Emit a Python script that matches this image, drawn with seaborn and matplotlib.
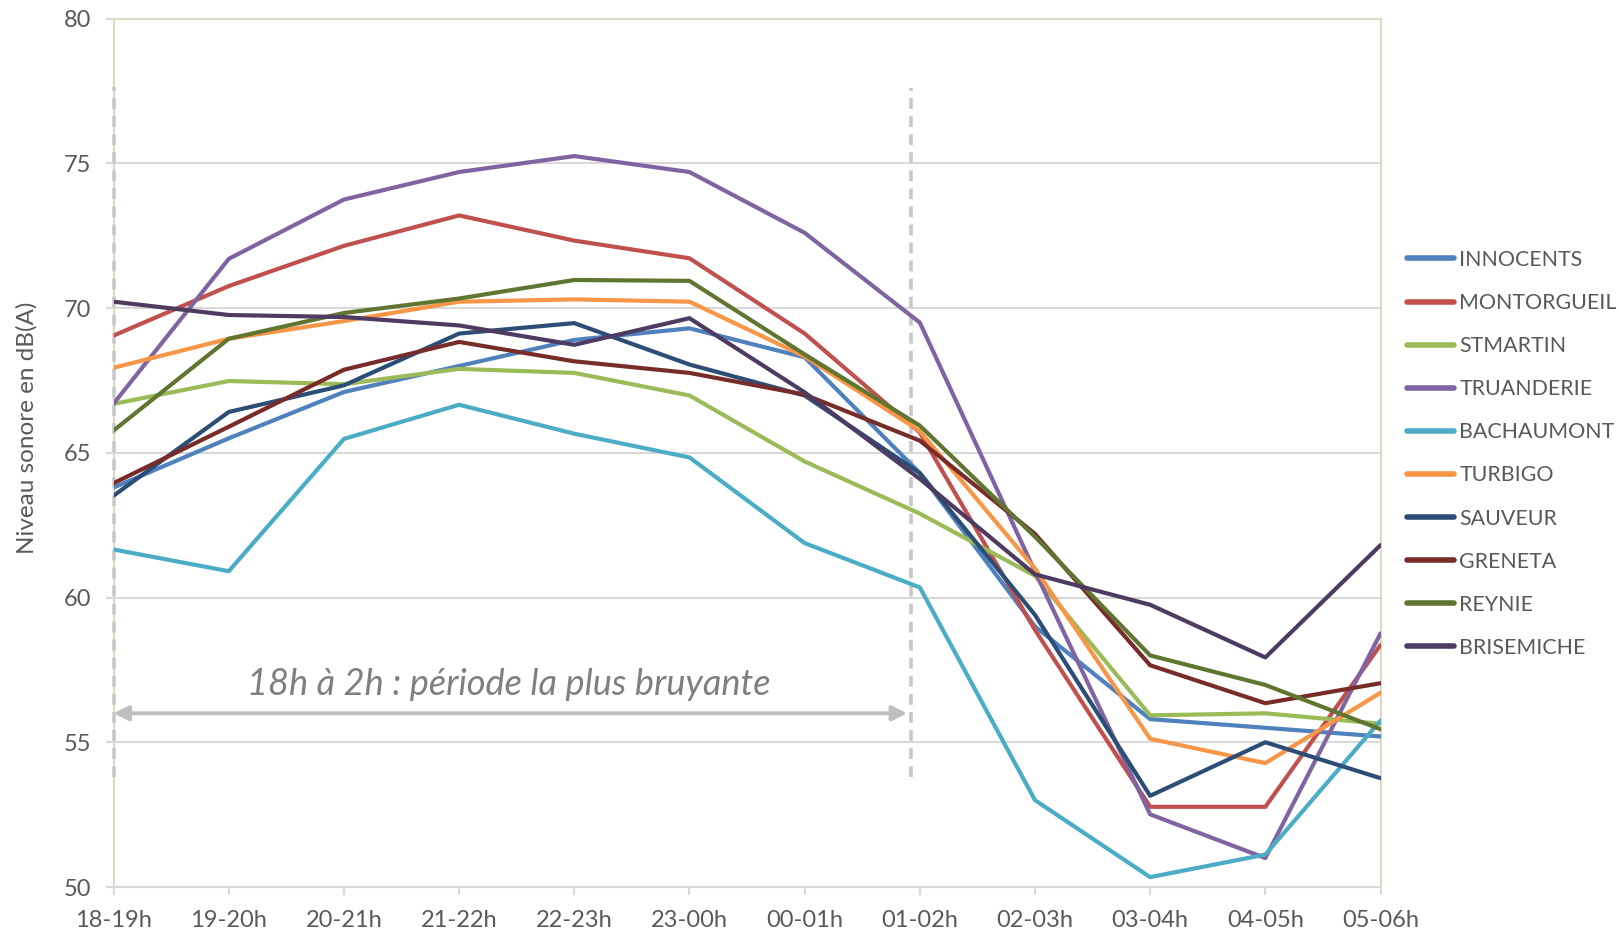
import matplotlib
matplotlib.use("Agg")
import matplotlib.pyplot as plt
import seaborn as sns
import pandas as pd

# Hourly slots, 18h to 6h
creneaux = ["18-19h", "19-20h", "20-21h", "21-22h", "22-23h", "23-00h",
            "00-01h", "01-02h", "02-03h", "03-04h", "04-05h", "05-06h"]

# Noise level per site, dB(A)
innocents   = [63.8, 65.5, 67.1, 68.0, 68.9, 69.3, 68.3, 64.3, 59.0, 55.8, 55.5, 55.2]
montorgueil = [69.05, 70.76, 72.15, 73.2, 72.33, 71.72, 69.12, 65.7, 58.88, 52.77, 52.77, 58.36]
stmartin    = [66.69, 67.48, 67.37, 67.9, 67.76, 66.98, 64.7, 62.9, 60.75, 55.93, 56.0, 55.64]
truanderie  = [66.7, 71.7, 73.75, 74.7, 75.25, 74.7, 72.6, 69.5, 60.9, 52.51, 51.0, 58.76]
bachaumont  = [61.66, 60.91, 65.48, 66.66, 65.66, 64.84, 61.88, 60.35, 53.0, 50.34, 51.12, 55.75]
turbigo     = [67.94, 68.94, 69.55, 70.22, 70.3, 70.22, 68.33, 65.75, 61.0, 55.12, 54.28, 56.71]
sauveur     = [63.52, 66.41, 67.33, 69.12, 69.48, 68.05, 66.98, 64.3, 59.4, 53.15, 55.0, 53.76]
greneta     = [63.95, 65.9, 67.87, 68.83, 68.16, 67.76, 67.01, 65.42, 62.2, 57.66, 56.35, 57.04]
reynie      = [65.77, 68.94, 69.83, 70.33, 70.97, 70.94, 68.4, 65.94, 62.1, 58.0, 56.98, 55.45]
brisemiche  = [70.22, 69.76, 69.69, 69.4, 68.73, 69.65, 67.09, 64.1, 60.8, 59.75, 57.93, 61.81]

sites = ["INNOCENTS", "MONTORGUEIL", "STMARTIN", "TRUANDERIE", "BACHAUMONT",
         "TURBIGO", "SAUVEUR", "GRENETA", "REYNIE", "BRISEMICHE"]
series = [innocents, montorgueil, stmartin, truanderie, bachaumont,
          turbigo, sauveur, greneta, reynie, brisemiche]
couleurs = ["#4F81BD", "#C0504D", "#9BBB59", "#8064A2", "#4BACC6",
            "#F79646", "#2C4D75", "#772C2A", "#5F7530", "#4D3B62"]

y_ticks = [50, 55, 60, 65, 70, 75, 80]
annotation = "18h à 2h : période la plus bruyante"
y_label = "Niveau sonore en dB(A)"

rows = []
for site, vals in zip(sites, series):
    for c, v in zip(creneaux, vals):
        rows.append({"creneau": c, "niveau": v, "site": site})
df = pd.DataFrame(rows)

sns.set_theme(style="white")
plt.rcParams["font.family"] = ["Lato", "DejaVu Sans"]

W, H = 1619, 933
fig = plt.figure(figsize=(W / 100, H / 100), dpi=100)
ax = fig.add_axes([113.6 / W, 1 - 887 / H, (1380.5 - 113.6) / W, (887 - 18.6) / H])

sns.lineplot(data=df, x="creneau", y="niveau", hue="site", hue_order=sites,
             palette=dict(zip(sites, couleurs)), sort=False, linewidth=3.0,
             ax=ax, legend=True, zorder=3)

ax.set_xlim(0, len(creneaux) - 1)
ax.set_ylim(50, 80)
ax.set_yticks(y_ticks)
ax.set_xlabel("")
ax.set_ylabel(y_label, fontsize=17.5, color="#595959")
ax.yaxis.set_label_coords(-0.0597, 0.529)

ax.grid(axis="y", color="#D9D9D9", linewidth=1.5, zorder=0)
ax.grid(axis="x", visible=False)
for side in ["left", "top", "right"]:
    ax.spines[side].set_color("#DDD9C3")
    ax.spines[side].set_linewidth(1.5)
ax.spines["bottom"].set_color("#D9D9D9")
ax.spines["bottom"].set_linewidth(1.5)

ax.tick_params(axis="y", length=6, width=1.5, color="#D9D9D9", labelsize=17,
               labelcolor="#595959", pad=10, left=True)
ax.tick_params(axis="x", length=6, width=1.5, color="#D9D9D9", labelsize=17,
               labelcolor="#595959", pad=10.5, bottom=True)

# Period markers and annotation
dash_kw = dict(color="#C8C8C8", linewidth=2.6, linestyle=(0, (3, 2)),
               zorder=2.6, clip_on=False)
ax.plot([0, 0], [53.8, 77.65], **dash_kw)
ax.plot([6.92, 6.92], [53.8, 77.6], **dash_kw)
ax.annotate("", xy=(0.0, 56.0), xytext=(6.89, 56.0),
            arrowprops=dict(arrowstyle="<|-|>", color="#BFBFBF", lw=2.8,
                            mutation_scale=22, shrinkA=0, shrinkB=0), zorder=2)
ax.text(3.43, 57.0, annotation, fontsize=26, style="italic", color="#7F7F7F",
        ha="center", va="center")

leg = ax.legend(loc="center left", bbox_to_anchor=(1407 / W, 0.5135),
                bbox_transform=fig.transFigure, frameon=False, fontsize=15.4,
                handlelength=2.2, handletextpad=0.25, labelspacing=1.08,
                borderpad=0, borderaxespad=0)
for txt in leg.get_texts():
    txt.set_color("#595959")
for line in leg.get_lines():
    line.set_linewidth(4)
    line.set_solid_capstyle("round")

fig.savefig("out.png", dpi=100, facecolor="white")
